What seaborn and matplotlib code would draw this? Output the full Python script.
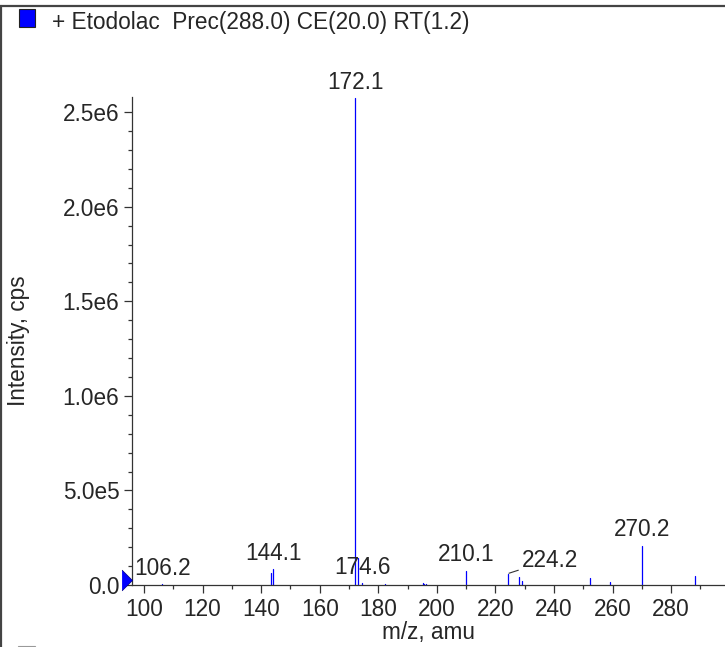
import numpy as np
import pandas as pd
import matplotlib
matplotlib.use("Agg")
import matplotlib.pyplot as plt
from matplotlib.lines import Line2D
from matplotlib.patches import Rectangle
from matplotlib.ticker import MultipleLocator
import seaborn as sns

# Espectro (m/z, intensidad)
mz = [106.2, 143.4, 144.1, 172.1, 173.1, 174.6, 182.2, 195.2, 195.6, 196.2,
      210.1, 224.2, 228.2, 229.0, 252.2, 259.1, 270.2, 288.1]
intensity = [4.0e3, 6.5e4, 8.3e4, 2.575e6, 1.43e5, 1.0e4, 4.0e3, 1.0e4, 7.0e3, 6.0e3,
             7.6e4, 6.0e4, 4.0e4, 1.9e4, 3.5e4, 1.8e4, 2.08e5, 4.8e4]

# Picos etiquetados
label_mz = [106.2, 144.1, 172.1, 174.6, 210.1, 270.2]
label_text = ["106.2", "144.1", "172.1", "174.6", "210.1", "270.2"]
leader_mz = 224.2
leader_text = "224.2"

yticks = [0, 5e5, 1e6, 1.5e6, 2e6, 2.5e6]
ytick_labels = ["0.0", "5.0e5", "1.0e6", "1.5e6", "2.0e6", "2.5e6"]
xticks = [100, 120, 140, 160, 180, 200, 220, 240, 260, 280]

title = "+ Etodolac  Prec(288.0) CE(20.0) RT(1.2)"

FS = 16.3

sns.set_style("ticks")
plt.rcParams["font.family"] = ["Liberation Sans", "DejaVu Sans"]
plt.rcParams["font.size"] = FS

# tabla larga: cada pico es una linea vertical (0 -> altura)
rows = []
for i, (m, h) in enumerate(zip(mz, intensity)):
    rows.append({"peak": i, "mz": m, "intensity": 0.0})
    rows.append({"peak": i, "mz": m, "intensity": h})
df = pd.DataFrame(rows)

fig = plt.figure(figsize=(7.25, 6.47), dpi=100)
ax = fig.add_axes([132 / 725, 1 - 585 / 647, 1 - 132 / 725, (585 - 97) / 647])

sns.lineplot(data=df, x="mz", y="intensity", units="peak", estimator=None,
             sort=False, color="#0000ff", linewidth=0.9, ax=ax)

xmin, xmax = 95.9, 298.4
ax.set_xlim(xmin, xmax)
ax.set_ylim(0, 2.58e6)
ax.set_xticks(xticks)
ax.xaxis.set_minor_locator(MultipleLocator(10))
ax.set_yticks(yticks, ytick_labels)
ax.yaxis.set_minor_locator(MultipleLocator(1e5))

ax.tick_params(axis="both", which="major", length=6, width=0.9, direction="out",
               labelsize=FS, color="#333333", pad=3)
ax.tick_params(axis="both", which="minor", length=3, width=0.9, direction="out",
               color="#333333")
sns.despine(ax=ax)
for s in ["left", "bottom"]:
    ax.spines[s].set_color("#333333")
    ax.spines[s].set_linewidth(0.9)

ax.set_xlabel("m/z, amu", fontsize=FS)
ax.set_ylabel("Intensity, cps", fontsize=FS)
ax.xaxis.set_label_coords(0.5, -(632 - 585) / 488, transform=ax.transAxes)
ax.xaxis.label.set_va("center")
ax.yaxis.set_label_coords(-(132 - 18) / 593, 0.5, transform=ax.transAxes)
ax.yaxis.label.set_va("center")

# etiquetas de picos
for m, t in zip(label_mz, label_text):
    h = intensity[mz.index(m)]
    ax.annotate(t, xy=(m, h), xytext=(0, 3), textcoords="offset points",
                ha="center", va="bottom", fontsize=FS, annotation_clip=False)
h = intensity[mz.index(leader_mz)]
ax.annotate(leader_text, xy=(leader_mz, h), xytext=(10, 1.5), textcoords="offset points",
            ha="left", va="bottom", fontsize=FS,
            arrowprops=dict(arrowstyle="-", color="#333333", lw=0.8,
                            shrinkA=0, shrinkB=1))

# marcador triangular en el eje y
ax.plot([xmin], [2.6e4], marker=[(-1, -1), (0, 0), (-1, 1)], markersize=15,
        color="#0000ff", markeredgecolor="#000080", markeredgewidth=0.5,
        clip_on=False, zorder=5)
# leyenda / titulo
fig.add_artist(Rectangle((19 / 725, 1 - 27 / 647), 16 / 725, 18 / 647,
                         transform=fig.transFigure, facecolor="#0000ff",
                         edgecolor="#222222", linewidth=0.8))
fig.text(52 / 725, 1 - 22 / 647, title, fontsize=FS, va="center", ha="left")

# marco del panel
fig.add_artist(Line2D([0, 1], [1 - 5.5 / 647, 1 - 5.5 / 647], color="#444444", lw=1.6,
                      transform=fig.transFigure))
fig.add_artist(Line2D([1.2 / 725, 1.2 / 725], [0, 1 - 5.5 / 647], color="#444444", lw=1.6,
                      transform=fig.transFigure))
fig.add_artist(Rectangle((18 / 725, -0.02), 17 / 725, 0.02 + 1 / 647,
                         transform=fig.transFigure, facecolor="white",
                         edgecolor="#999999", linewidth=0.8))

fig.savefig("out.png", dpi=100)
